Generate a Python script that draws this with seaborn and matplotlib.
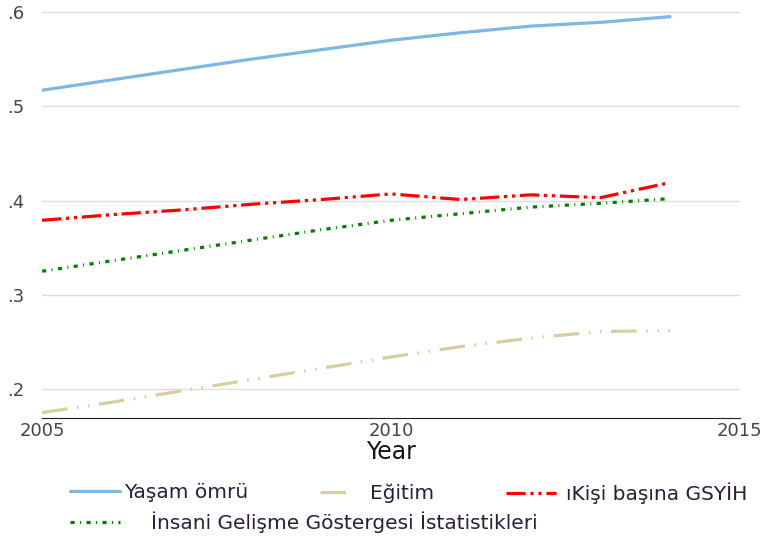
import numpy as np
import pandas as pd
import matplotlib
matplotlib.use('Agg')
import matplotlib.pyplot as plt
import seaborn as sns
from matplotlib.ticker import FuncFormatter
from matplotlib.lines import Line2D

# Values
years = [2005, 2006, 2007, 2008, 2009, 2010, 2011, 2012, 2013, 2014]
yasam = [0.517, 0.528, 0.539, 0.550, 0.560, 0.570, 0.578, 0.585, 0.589, 0.595]
egitim = [0.175, 0.186, 0.198, 0.210, 0.222, 0.234, 0.245, 0.254, 0.261, 0.262]
gsyih = [0.379, 0.385, 0.390, 0.396, 0.401, 0.407, 0.401, 0.406, 0.403, 0.419]
igg = [0.325, 0.336, 0.347, 0.358, 0.369, 0.379, 0.386, 0.393, 0.397, 0.402]

labels = ['Yaşam ömrü', 'Eğitim', '\u0131Kişi başına GSYİH',
          'İnsani Gelişme Göstergesi İstatistikleri']
colors = ['#7db7e4', '#d6cf9e', '#ff0000', '#007f00']
styles = ['-', (0, (8, 3, 0.5, 3, 0.5, 3)), (0, (6, 1.5, 1, 1.5, 1, 1.5)),
          (0, (1.3, 1.7, 0.3, 1.7))]

df = pd.DataFrame({'Year': years, labels[0]: yasam, labels[1]: egitim,
                   labels[2]: gsyih, labels[3]: igg})

sns.set_style('white')
plt.rcParams['font.family'] = ['DejaVu Sans']

fig = plt.figure(figsize=(7.65, 5.39), dpi=100)
ax = fig.add_axes([0.055, 0.224, 0.912, 0.766])

for lab, col, ls in zip(labels, colors, styles):
    sns.lineplot(data=df, x='Year', y=lab, ax=ax, color=col, linestyle=ls,
                 linewidth=2.3, label=lab, legend=False)

ax.set_xlim(2005, 2015)
ax.set_ylim(0.169, 0.607)
ax.set_yticks([0.2, 0.3, 0.4, 0.5, 0.6])
ax.yaxis.set_major_formatter(FuncFormatter(lambda v, p: ('%.1f' % v).lstrip('0')))
ax.set_xticks([2005, 2010, 2015])
ax.grid(axis='y', color='#dddddd', linewidth=1)
for s in ['left', 'right', 'top']:
    ax.spines[s].set_visible(False)
ax.spines['bottom'].set_color('#222222')
ax.tick_params(axis='x', direction='in', length=6, color='#555555',
               labelsize=13, labelcolor='#444444', pad=3)
ax.tick_params(axis='y', length=0, labelsize=13, labelcolor='#444444', pad=13)
ax.set_xlabel('Year', fontsize=17, color='#151515', labelpad=0)
ax.set_ylabel('')

# legend entries placed one by one (handle start x, row centre y, text pad)
W, H = 765, 539
spots = [(70, 493, 0.2), (320, 493, 0.8), (506, 493, 0.5), (70, 522, 1.5)]
hlen = [3.0, 2.0, 3.0, 3.0]
fs = 14.5
for c, s, lab, (px, py, pad), hl in zip(colors, styles, labels, spots, hlen):
    h = Line2D([], [], color=c, linestyle=s, linewidth=2.3)
    fig.legend([h], [lab], loc='center left',
               bbox_to_anchor=(px / W, 1 - py / H), frameon=False,
               fontsize=fs, handlelength=hl * 12 / fs, handletextpad=pad * 15 / fs,
               borderpad=0, borderaxespad=0, labelcolor='#2a1e3a')

fig.savefig('out.png', dpi=100)
